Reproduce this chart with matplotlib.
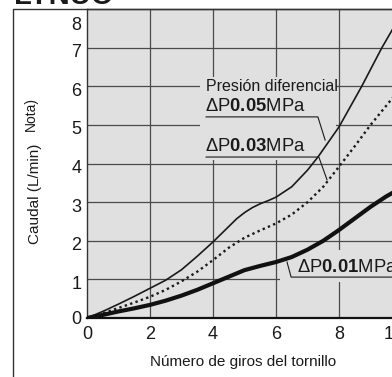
import matplotlib
matplotlib.use("Agg")
import matplotlib.pyplot as plt
from matplotlib.patches import Rectangle
from matplotlib.lines import Line2D
from matplotlib.transforms import ScaledTranslation

plt.rcParams['font.family'] = ['Liberation Sans', 'DejaVu Sans']
plt.rcParams['mathtext.fontset'] = 'custom'
plt.rcParams['mathtext.rm'] = 'Liberation Sans'
plt.rcParams['mathtext.bf'] = 'Liberation Sans:bold'

# ---- data ----
x_005 = [0, 0.5, 1, 1.5, 2, 2.5, 3, 3.5, 4, 4.5, 4.75, 5, 5.25, 5.5, 5.75, 6, 6.5, 7, 7.34, 8, 8.72, 9.36, 9.75, 10.2]
y_005 = [0, 0.17, 0.36, 0.56, 0.77, 0.98, 1.25, 1.6, 1.97, 2.37, 2.57, 2.73, 2.86, 2.96, 3.04, 3.13, 3.4, 3.83, 4.18, 4.95, 6.0, 7.0, 7.55, 8.2]

x_003 = [0, 0.5, 1, 1.5, 2, 2.5, 3, 3.5, 4, 4.5, 5, 5.5, 6, 6.5, 7, 7.5, 8, 8.5, 9, 9.5, 10]
y_003 = [0, 0.12, 0.26, 0.4, 0.55, 0.73, 0.95, 1.2, 1.5, 1.82, 2.08, 2.27, 2.45, 2.68, 3.0, 3.4, 3.92, 4.45, 5.0, 5.5, 6.0]

x_001 = [0, 0.5, 1, 1.5, 2, 2.5, 3, 3.5, 4, 4.5, 5, 5.5, 6, 6.5, 7, 7.5, 8, 8.5, 9, 9.5, 10]
y_001 = [0, 0.08, 0.17, 0.25, 0.34, 0.45, 0.58, 0.73, 0.9, 1.07, 1.24, 1.35, 1.45, 1.58, 1.77, 2.0, 2.28, 2.58, 2.88, 3.15, 3.38]

x_ticks = [0, 2, 4, 6, 8, 10]
y_ticks = [0, 1, 2, 3, 4, 5, 6, 7, 8]

W, H = 392, 377
fig = plt.figure(figsize=(W / 100, H / 100), dpi=100)

# axes geometry in pixels
px0, py0 = 87, 318
sx, sy = 31.5, 38.6
xmax = 12
ax = fig.add_axes([px0 / W, (H - py0) / H, xmax * sx / W, 8 * sy / H])
ax.set_xlim(0, xmax)
ax.set_ylim(0, 8)
ax.set_facecolor('#e0e0e0')

gc = '#4a4a4a'
for v in [2, 4, 6, 8, 10]:
    ax.axvline(v, color=gc, lw=0.9, zorder=1)
for v in range(1, 8):
    ax.axhline(v, color=gc, lw=0.9, zorder=1)

# knock-out boxes behind labels
ax.add_patch(Rectangle((3.59, 4.09), 4.31, 2.15, facecolor='#e0e0e0',
                       edgecolor='none', zorder=2))
ax.add_patch(Rectangle((6.13, 0.93), 6.0, 0.83, facecolor='#e0e0e0',
                       edgecolor='none', zorder=2))

ax.plot(x_005, y_005, color='#1a1a1a', lw=1.2, zorder=3)
ax.plot(x_003, y_003, color='#1a1a1a', lw=1.7, ls=(0, (1, 1.4)), zorder=3)
ax.plot(x_001, y_001, color='#111111', lw=3.0, zorder=3, solid_capstyle='butt')

ax.set_xticks(x_ticks)
ax.set_yticks(y_ticks)
ax.set_xticklabels([str(t) for t in x_ticks])
ax.set_yticklabels([str(t) for t in y_ticks])
ax.tick_params(axis='both', length=0, labelsize=13, colors='#1a1a1a')
ax.tick_params(axis='y', pad=4)
ax.tick_params(axis='x', pad=6)

# small label nudges as in the printed chart
for t, lab in zip(y_ticks, ax.get_yticklabels()):
    dy = {0: 1, 8: -14}.get(t, -3)
    lab.set_transform(lab.get_transform() + ScaledTranslation(0, dy / 100, fig.dpi_scale_trans))
for t, lab in zip(x_ticks, ax.get_xticklabels()):
    if t == 10:
        lab.set_transform(lab.get_transform() + ScaledTranslation(-8 / 100, 0, fig.dpi_scale_trans))

for s in ['left', 'top']:
    ax.spines[s].set_color('#333333')
    ax.spines[s].set_linewidth(1.0)
ax.spines['bottom'].set_color('#111111')
ax.spines['bottom'].set_linewidth(1.6)
ax.spines['right'].set_visible(False)

# annotations
tc = '#1a1a1a'
fs = 11.5
fs2 = 13.3
ax.text(3.78, 5.88, 'Presión diferencial', fontsize=fs, color=tc, va='baseline', zorder=4)
ax.text(3.76, 5.36, r'ΔP$\mathbf{0.05}$MPa', fontsize=fs2, color=tc, va='baseline', zorder=4)
ax.plot([3.78, 7.33, 7.56], [5.21, 5.21, 4.61], color=tc, lw=0.8, zorder=3)
ax.text(3.76, 4.33, r'ΔP$\mathbf{0.03}$MPa', fontsize=fs2, color=tc, va='baseline', zorder=4)
ax.plot([3.78, 7.36, 7.62], [4.17, 4.17, 3.58], color=tc, lw=0.8, zorder=3)
ax.text(6.67, 1.19, r'ΔP$\mathbf{0.01}$MPa', fontsize=fs2, color=tc, va='baseline', zorder=4)
ax.plot([6.35, 6.48, 12], [1.45, 1.06, 1.06], color=tc, lw=0.8, zorder=3)

# axis labels
fig.text(243 / W, 1 - 362 / H, 'Número de giros del tornillo', fontsize=11,
         color=tc, ha='center', va='center')
fig.text(35 / W, 1 - 194 / H, 'Caudal (L/min)', fontsize=11, color=tc,
         rotation=90, ha='center', va='center')
fig.text(31 / W, 1 - 114 / H, 'Nota)', fontsize=10, color=tc,
         rotation=90, ha='center', va='center')

# outer frame
fig.add_artist(Line2D([13 / W, 13 / W, 1.0], [0.0, 1 - 9 / H, 1 - 9 / H],
                      transform=fig.transFigure, color='#333333', lw=1.0))
# clipped heading at the very top
fig.text(14 / W, 1 - 3.5 / H, 'LYNUO', fontsize=21, weight='bold', color='#1a1a1a',
         ha='left', va='baseline')

fig.savefig('out.png', dpi=100)
